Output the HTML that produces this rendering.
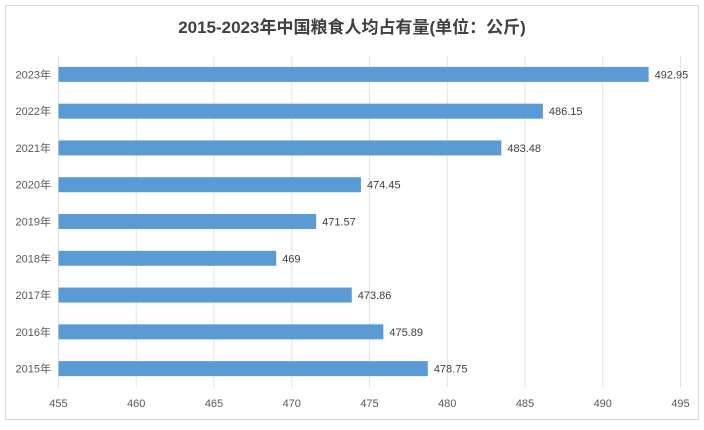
<!DOCTYPE html>
<html><head><meta charset="utf-8"><style>
body{margin:0;background:#fff;}
svg text{font-family:"Liberation Sans","Noto Sans CJK SC",sans-serif;}
</style></head><body>
<svg id="chart" width="704" height="425" xmlns="http://www.w3.org/2000/svg">
<rect x="5.5" y="5.5" width="693" height="414" fill="#fff" stroke="#d9d9d9"/>
<text x="352" y="33" text-anchor="middle" font-size="17" font-weight="bold" fill="#404040">2015-2023年中国粮食人均占有量(单位：公斤)</text>
<g id="grid"></g><g id="bars"></g><g id="labels"></g>
</svg>
<script>
const categories=["2015年","2016年","2017年","2018年","2019年","2020年","2021年","2022年","2023年"];
const values=[478.75,475.89,473.86,469,471.57,474.45,483.48,486.15,492.95];
const valueLabels=["478.75","475.89","473.86","469","471.57","474.45","483.48","486.15","492.95"];
const ticks=[455,460,465,470,475,480,485,490,495];
const xMin=455,xMax=495,L=58.5,R=680.5,T=56,B=387;
const x=v=>L+(v-xMin)/(xMax-xMin)*(R-L);
const band=(B-T)/categories.length;
const y=i=>B-band*(i+0.5);
const NS="http://www.w3.org/2000/svg";
function mk(t,a,p){const e=document.createElementNS(NS,t);for(const k in a)e.setAttribute(k,a[k]);p.appendChild(e);return e;}
const g=document.getElementById('grid'),b=document.getElementById('bars'),lb=document.getElementById('labels');
ticks.forEach(t=>{
 const l=mk('line',{x1:x(t),x2:x(t),y1:T,y2:B,stroke:'#e3e3e3','stroke-width':1},g);
 
 
 const tx=mk('text',{x:x(t),y:407,'text-anchor':'middle','font-size':11,fill:'#595959'},lb);
 tx.textContent=t;
 
 
});
categories.forEach((c,i)=>{
 const r=mk('rect',{x:x(xMin),y:y(i)-7.5,width:x(values[i])-x(xMin),height:15,fill:'#5b9bd5'},b);
 
 
 const ct=mk('text',{x:51,y:y(i)+4,'text-anchor':'end','font-size':11,fill:'#595959'},lb);
 ct.textContent=c;
 
 
 const vt=mk('text',{x:x(values[i])+6,y:y(i)+4,'font-size':11,fill:'#404040'},lb);
 vt.textContent=valueLabels[i];
 
 
});
</script>
</body></html>
